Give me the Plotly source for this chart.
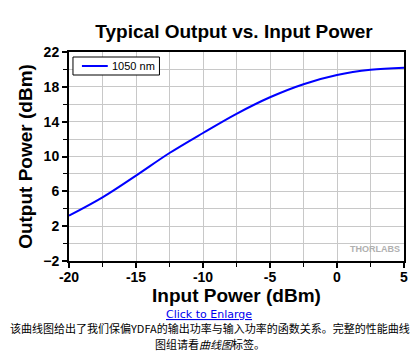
import plotly.graph_objects as go

input_power = [-20, -17.5, -15, -12.5, -10, -7.5, -5, -2.5, 0, 2.5, 5]
output_power = [3.2, 5.3, 7.8, 10.4, 12.7, 14.9, 16.8, 18.3, 19.35, 19.95, 20.2]
series_name = "1050 nm"
x_ticks = [-20, -15, -10, -5, 0, 5]
y_ticks = [-2, 2, 6, 10, 14, 18, 22]

L, R, T, B = 69, 14, 52, 102
W, H = 420, 363
PW, PH = W - L - R, H - T - B


def px(x):
    return (x - L) / PW


def py(y):
    return (H - B - y) / PH


fig = go.Figure()
fig.add_trace(go.Scatter(x=input_power, y=output_power, mode="lines", name=series_name,
                         line=dict(color="#0000ff", width=2, shape="spline"), showlegend=False))

font_main = "Liberation Sans, Arial, sans-serif"
fig.update_layout(
    width=W, height=H,
    margin=dict(l=L, r=R, t=T, b=B),
    paper_bgcolor="white", plot_bgcolor="white",
    title=dict(text="<b>Typical Output vs. Input Power</b>", x=234 / W, xanchor="center",
               y=1 - 31 / H, yanchor="middle", font=dict(family=font_main, size=19, color="black")),
    font=dict(family=font_main),
)
fig.update_xaxes(range=[-20, 5], tickvals=x_ticks, ticktext=[str(v) for v in x_ticks],
                 showgrid=True, gridcolor="#c8c8c8", gridwidth=1,
                 ticks="outside", ticklen=5, tickwidth=2, tickcolor="black", ticklabelstandoff=-3,
                 minor=dict(dtick=2.5, tick0=-20, showgrid=True, gridcolor="#c8c8c8", gridwidth=1,
                            ticks="outside", ticklen=4, tickcolor="black", tickwidth=1),
                 showline=True, linecolor="black", linewidth=2, mirror=True, zeroline=False,
                 tickfont=dict(family=font_main, size=14, color="black", weight="bold"),
                 title=dict(text="<b>Input Power (dBm)</b>", font=dict(family=font_main, size=19, color="black"), standoff=0))
fig.update_yaxes(range=[-2, 22], tickvals=y_ticks, showgrid=True, gridcolor="#c8c8c8", gridwidth=1,
                 ticks="outside", ticklen=5, tickwidth=2, tickcolor="black",
                 minor=dict(dtick=2, tick0=-2, showgrid=True, gridcolor="#c8c8c8", gridwidth=1,
                            ticks="outside", ticklen=4, tickcolor="black", tickwidth=1),
                 showline=True, linecolor="black", linewidth=2, mirror=True, zeroline=False,
                 tickfont=dict(family=font_main, size=14, color="black", weight="bold"),
                 title=dict(text="<b>Output Power (dBm)</b>", font=dict(family=font_main, size=19, color="black"), standoff=6))

# legend box drawn manually to match the compact reference legend
fig.add_shape(type="rect", xref="paper", yref="paper", x0=px(73), x1=px(160), y0=py(75), y1=py(57),
              line=dict(color="black", width=1), fillcolor="white", layer="above")
fig.add_shape(type="line", xref="paper", yref="paper", x0=px(82), x1=px(108), y0=py(66), y1=py(66),
              line=dict(color="#0000ff", width=2), layer="above")
fig.add_annotation(text=series_name, xref="paper", yref="paper", x=px(110), y=py(66), xanchor="left", yanchor="middle",
                   showarrow=False, font=dict(family=font_main, size=11, color="black"))

fig.add_annotation(text="<b>THORLABS</b>", xref="paper", yref="paper", x=px(404), y=py(249), xanchor="right", yanchor="middle",
                   showarrow=False, font=dict(family=font_main, size=9, color="#b0b0b0"))
fig.add_annotation(text="<u>Click to Enlarge</u>", xref="paper", yref="paper", x=px(210), y=py(314),
                   xanchor="center", yanchor="middle", showarrow=False,
                   font=dict(family="DejaVu Sans, sans-serif", size=11, color="#0000ee"))
fig.add_annotation(text="该曲线图给出了我们保偏YDFA的输出功率与输入功率的函数关系。完整的性能曲线",
                   xref="paper", yref="paper", x=px(211), y=py(328), xanchor="center", yanchor="middle",
                   showarrow=False, font=dict(family="Noto Sans CJK SC", size=11, color="black"))
fig.add_annotation(text="图组请看<i>曲线图</i>标签。",
                   xref="paper", yref="paper", x=px(211), y=py(344), xanchor="center", yanchor="middle",
                   showarrow=False, font=dict(family="Noto Sans CJK SC", size=11, color="black"))

fig.write_html("out.html", config={"displayModeBar": False},
               post_script="document.body.style.margin='0';")
